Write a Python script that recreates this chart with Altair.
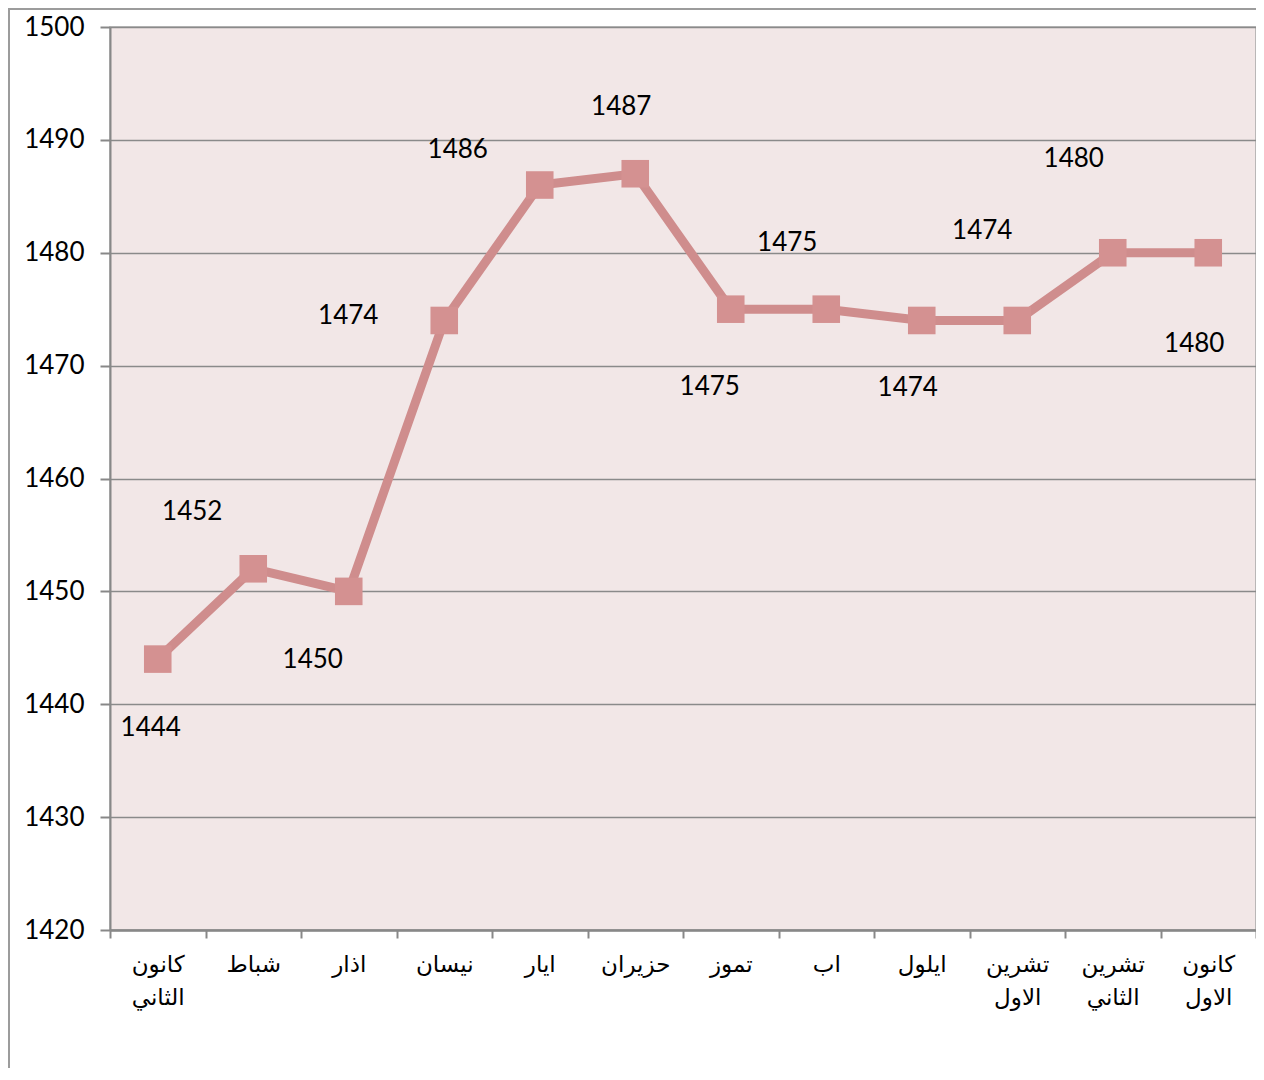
import altair as alt
import pandas as pd

months = ["كانون|الثاني", "شباط", "اذار", "نيسان", "ايار", "حزيران",
          "تموز", "اب", "ايلول", "تشرين|الاول", "تشرين|الثاني", "كانون|الاول"]
values = [1444, 1452, 1450, 1474, 1486, 1487, 1475, 1475, 1474, 1474, 1480, 1480]
y_ticks = [1420, 1430, 1440, 1450, 1460, 1470, 1480, 1490, 1500]

# label offsets (style only)
label_dx = [-7, -61, -36, -96, -82, -14, -21, -39, -14, -35, -39, -14]
label_dy = [69, -57, 69, -4, -35, -67, 78, -66, 68, -89, -94, 91]

df = pd.DataFrame({"month": months, "value": values, "idx": list(range(len(months)))})

W, H = 1146, 903
NUM_FONT = "Lato"
LINE_COLOR = "#CF8D8D"

x = alt.X("month:N", sort=months,
          scale=alt.Scale(paddingInner=0, paddingOuter=0),
          axis=alt.Axis(title=None, labelAngle=0, labelExpr="split(datum.label, '|')",
                        labelFont="DejaVu Sans", labelFontSize=23, labelColor="#000",
                        labelLineHeight=33, labelPadding=15, labelBaseline="top",
                        tickBand="extent", tickSize=8, tickColor="#888", tickWidth=2,
                        domainColor="#888", domainWidth=2.5, grid=False))
y = alt.Y("value:Q",
          scale=alt.Scale(domain=[1420, 1500], nice=False, zero=False),
          axis=alt.Axis(title=None, values=y_ticks, format="d", labelFont=NUM_FONT,
                        labelFontSize=26, labelColor="#000", labelPadding=16, tickSize=10,
                        tickColor="#888", tickWidth=2, domainColor="#888", domainWidth=2,
                        gridColor="#8a8a8a", gridWidth=1.5))

base = alt.Chart(df)
line = base.mark_line(color=LINE_COLOR, strokeWidth=9).encode(x=x, y=y)
pts = base.mark_point(shape="square", filled=True, size=760, color="#D49191",
                      opacity=1).encode(x=x, y=y)

texts = []
for i in range(len(months)):
    texts.append(
        base.transform_filter(alt.datum.idx == i)
        .mark_text(font=NUM_FONT, fontSize=26, color="#000", dx=label_dx[i], dy=label_dy[i])
        .encode(x=x, y=y, text=alt.Text("value:Q", format="d"))
    )

frame = alt.Chart(df.head(1)).mark_rule(color="#9c9c9c", strokeWidth=2).encode(
    x=alt.value(-101), y=alt.value(-19), y2=alt.value(H + 150))
frame_top = alt.Chart(df.head(1)).mark_rule(color="#9c9c9c", strokeWidth=2).encode(
    x=alt.value(-101), x2=alt.value(W + 10), y=alt.value(-18))

chart = alt.layer(line, pts, *texts, frame, frame_top).properties(
    width=W, height=H,
    autosize=alt.AutoSizeParams(type="none"),
    padding={"left": 102, "top": 19, "right": 0, "bottom": 138},
).configure_view(fill="#F2E7E7", stroke="#A8A8A8", strokeWidth=1.5)

chart.save("out.html", embed_options={"renderer": "svg", "actions": False})
